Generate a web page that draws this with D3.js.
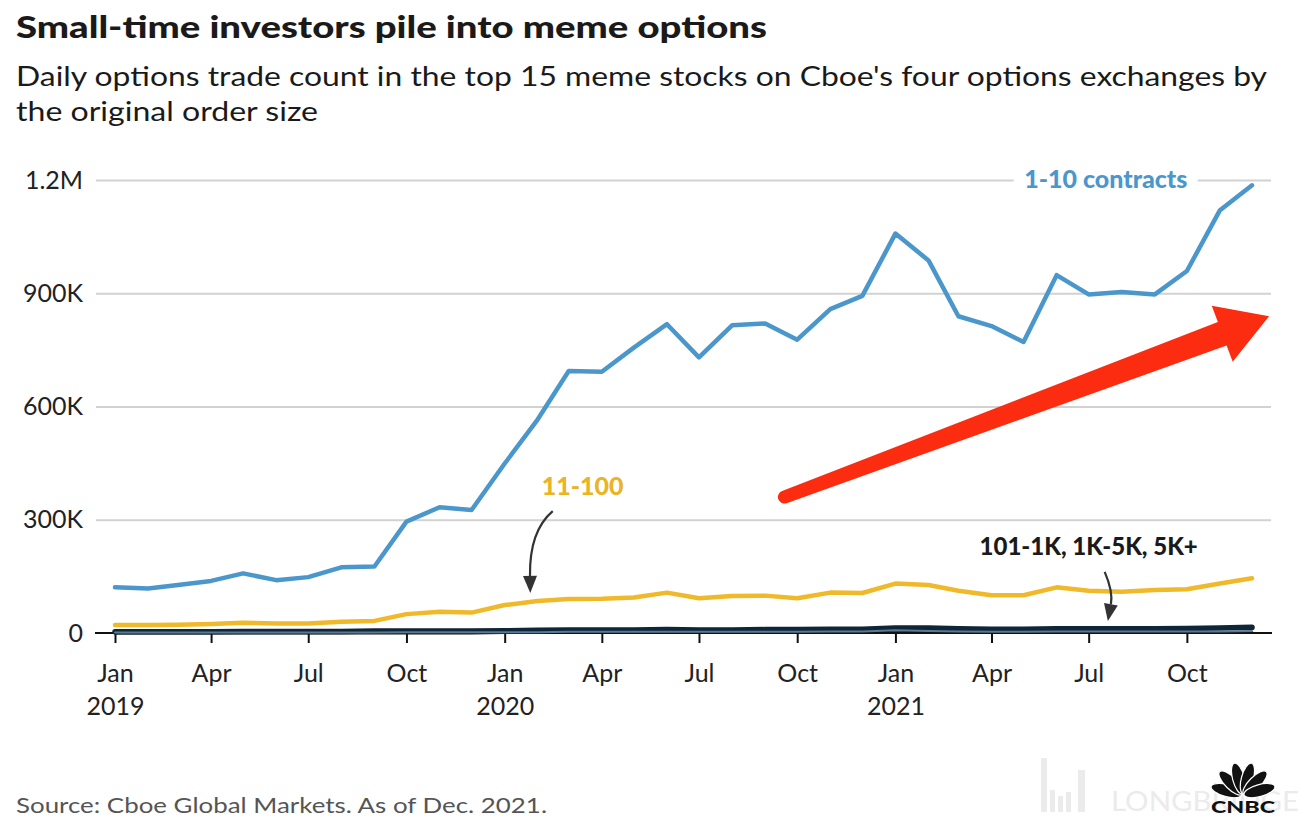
<!DOCTYPE html>
<html><head><meta charset="utf-8">
<script src="https://cdn.jsdelivr.net/npm/d3@7"></script>
<style>
body{margin:0;background:#fff}
svg{display:block}
text{font-family:Lato,"Open Sans",sans-serif}
</style>
</head><body>
<svg id="chart" width="1310" height="832"></svg>
<script>
// ---------- DATA ----------
const months = ["2019-01","2019-02","2019-03","2019-04","2019-05","2019-06","2019-07","2019-08","2019-09","2019-10","2019-11","2019-12",
                "2020-01","2020-02","2020-03","2020-04","2020-05","2020-06","2020-07","2020-08","2020-09","2020-10","2020-11","2020-12",
                "2021-01","2021-02","2021-03","2021-04","2021-05","2021-06","2021-07","2021-08","2021-09","2021-10","2021-11","2021-12"];
// daily trade count, thousands
const size1to10   = [121,118,127,138,158,140,148,174,176,295,333,326, 449,566,694,692,756,818,730,815,820,777,858,893, 1058,987,839,813,771,948,897,903,897,959,1120,1186];
const size11to100 = [21,21,22,24,27,25,25,30,32,50,56,54, 74,85,90,91,94,107,92,98,99,92,107,106, 131,127,112,100,100,121,112,109,114,116,131,145];
const size101to1K = [3,3,3,3,4,4,4,4,5,5,5,5, 6,7,8,8,8,9,8,8,9,9,10,10, 13,13,11,10,10,11,11,11,11,12,13,15];
const size1Kto5K  = [1,1,1,1,1,1,1,1,1,2,2,2, 2,2,3,3,3,3,3,3,3,3,4,4, 7,5,4,3,3,4,4,4,4,4,4,5];
const size5Kplus  = [0,0,0,0,0,0,0,0,0,0,0,0, 1,1,1,1,1,1,1,1,1,1,1,1, 1,1,1,1,1,1,1,1,1,1,1,1];

const yTicks = [0, 300000, 600000, 900000, 1200000];
const yTickLabels = ["0","300K","600K","900K","1.2M"];
const xTickDates = ["2019-01","2019-04","2019-07","2019-10","2020-01","2020-04","2020-07","2020-10","2021-01","2021-04","2021-07","2021-10"];
const xTickMonths = ["Jan","Apr","Jul","Oct","Jan","Apr","Jul","Oct","Jan","Apr","Jul","Oct"];
const xTickYears  = ["2019","","","","2020","","","","2021","","",""];

const titleText = "Small-time investors pile into meme options";
const subtitleLines = ["Daily options trade count in the top 15 meme stocks on Cboe's four options exchanges by","the original order size"];
const sourceText = "Source: Cboe Global Markets. As of Dec. 2021.";

// ---------- SETUP ----------
const parse = d3.timeParse("%Y-%m");
const parseDay = d3.timeParse("%Y-%m-%d");
const svg = d3.select("#chart");
const plot = {left:96, right:1271, top:180, bottom:633};

const x = d3.scaleTime().domain([parse("2019-01"), parse("2021-12")]).range([115, 1252]);
const y = d3.scaleLinear().domain([0, 1200000]).range([plot.bottom, plot.top]);

// ---------- TEXT ----------
svg.append("text").attr("x",16).attr("y",38).attr("font-size",31).attr("font-weight",900)
  .attr("fill","#1a1a1a").attr("textLength",751).attr("lengthAdjust","spacingAndGlyphs").text(titleText);
svg.append("text").attr("x",16).attr("y",86).attr("font-size",27).attr("fill","#1a1a1a")
  .attr("textLength",1251).attr("lengthAdjust","spacingAndGlyphs").text(subtitleLines[0]);
svg.append("text").attr("x",16).attr("y",121).attr("font-size",27).attr("fill","#1a1a1a")
  .attr("textLength",302).attr("lengthAdjust","spacingAndGlyphs").text(subtitleLines[1]);
svg.append("text").attr("x",16).attr("y",813).attr("font-size",22).attr("fill","#555")
  .attr("textLength",531).attr("lengthAdjust","spacingAndGlyphs").text(sourceText);

// ---------- Y AXIS / GRID ----------
const yAxis = d3.axisLeft(y).tickValues(yTicks).tickSize(-(plot.right-plot.left)).tickPadding(13)
  .tickFormat((d,i)=>yTickLabels[i]);
const gy = svg.append("g").attr("transform",`translate(${plot.left},0)`).call(yAxis);
gy.select(".domain").remove();
gy.selectAll(".tick line").attr("stroke","#d2d2d2").attr("stroke-width",2)
  .filter(d=>d===0).remove();
gy.selectAll(".tick text").attr("font-size",25).attr("fill","#222").attr("font-family","Lato,sans-serif");

// ---------- X AXIS ----------
const gx = svg.append("g").attr("transform",`translate(0,${plot.bottom})`)
  .call(d3.axisBottom(x).tickValues(xTickDates.map(parse)).tickSize(10).tickFormat(""));
gx.select(".domain").remove();
gx.selectAll(".tick line").attr("stroke","#111").attr("stroke-width",2);
gx.selectAll(".tick").each(function(d,i){
  const t = d3.select(this).append("text").attr("fill","#222").attr("font-size",25)
    .attr("text-anchor","middle").attr("font-family","Lato,sans-serif");
  t.append("tspan").attr("x",0).attr("y",49).text(xTickMonths[i]);
  if (xTickYears[i]) t.append("tspan").attr("x",0).attr("y",82).text(xTickYears[i]);
});
svg.append("line").attr("x1",plot.left-1).attr("x2",plot.right+1)
  .attr("y1",y(0)).attr("y2",y(0)).attr("stroke","#111").attr("stroke-width",2);

// ---------- LINES ----------
const series = [
  {name:"5K+", values:size5Kplus, color:"#111111", width:3},
  {name:"101-1K", values:size101to1K, color:"#0f2538", width:5.5},
  {name:"1K-5K", values:size1Kto5K, color:"#5a7a94", width:2},
  {name:"11-100", values:size11to100, color:"#f0b92a", width:4.5},
  {name:"1-10 contracts", values:size1to10, color:"#4b97cb", width:4.5},
];
const line = d3.line().x(d=>x(d.date)).y(d=>y(d.v*1000));
series.forEach(s=>{
  const pts = months.map((m,i)=>({date:parse(m), v:s.values[i]}));
  svg.append("path").datum(pts).attr("d",line).attr("fill","none")
    .attr("stroke",s.color).attr("stroke-width",s.width)
    .attr("stroke-linejoin","round").attr("stroke-linecap","round");
});

// ---------- ANNOTATIONS ----------
const lbl1x = x(parseDay("2021-07-17")), lbl1y = y(1200000)+8;
svg.append("rect").attr("x",lbl1x-92).attr("y",lbl1y-24).attr("width",184).attr("height",30).attr("fill","#fff");
svg.append("text").attr("x",lbl1x).attr("y",lbl1y).attr("text-anchor","middle")
  .attr("font-size",25).attr("font-weight",900).attr("fill","#4b97cb").text("1-10 contracts");

svg.append("text").attr("x",x(parseDay("2020-03-14"))).attr("y",y(365000)).attr("text-anchor","middle")
  .attr("font-size",25).attr("font-weight",900).attr("fill","#eab424").text("11-100");

function curvedArrow(p0, c, p1){
  const ang = Math.atan2(p1[1]-c[1], p1[0]-c[0]);
  const L = 17, Wd = 7;
  const bx = p1[0]-L*Math.cos(ang), by = p1[1]-L*Math.sin(ang);
  svg.append("path").attr("d",`M${p0[0]},${p0[1]} Q${c[0]},${c[1]} ${bx},${by}`)
    .attr("fill","none").attr("stroke","#333").attr("stroke-width",2.2);
  const nx = -Math.sin(ang), ny = Math.cos(ang);
  svg.append("path").attr("d",`M${p1[0]},${p1[1]} L${bx+nx*Wd},${by+ny*Wd} L${bx-nx*Wd},${by-ny*Wd} Z`).attr("fill","#333");
}
curvedArrow([x(parseDay("2020-02-15")), y(323000)],
            [x(parseDay("2020-01-24")), y(270000)],
            [x(parseDay("2020-01-25")), y(106000)]);

svg.append("text").attr("x",x(parseDay("2021-07-01"))).attr("y",y(206000)).attr("text-anchor","middle")
  .attr("font-size",24).attr("font-weight",900).attr("fill","#1a1a1a").text("101-1K, 1K-5K, 5K+");
curvedArrow([x(parseDay("2021-07-16")), y(162000)],
            [x(parseDay("2021-07-24")), y(110000)],
            [x(parseDay("2021-07-19")), y(32000)]);

(function(){
  const t0 = [x(parseDay("2020-09-19")), y(360000)];
  const t1 = [x(parseDay("2021-12-17")), y(839000)];
  const dx = t1[0]-t0[0], dy = t1[1]-t0[1], len = Math.hypot(dx,dy);
  const ux = dx/len, uy = dy/len, nx = -uy, ny = ux;
  const headL = 50, headW = 30, w0 = 6.5, w1 = 12.5;
  const b = [t1[0]-ux*headL, t1[1]-uy*headL];
  const P = (p,s)=>`${p[0]+nx*s},${p[1]+ny*s}`;
  const d = `M${P(t0,w0)} L${P(b,w1)} L${P(b,headW)} L${t1[0]},${t1[1]} L${P(b,-headW)} L${P(b,-w1)} L${P(t0,-w0)} A${w0},${w0} 0 0 0 ${P(t0,w0)} Z`;
  svg.append("path").attr("d",d).attr("fill","#fb2c10");
})();

// ---------- WATERMARK & LOGO ----------
const wm = svg.append("g").attr("fill","#ebebeb");
[[1041,758,6,54],[1050,790,5,22],[1058,796,5,16],[1066,792,5,20],[1078,770,7,42]].forEach(r=>
  wm.append("rect").attr("x",r[0]).attr("y",r[1]).attr("width",r[2]).attr("height",r[3]));
svg.append("text").attr("x",1111).attr("y",811).attr("font-size",27).attr("fill","#ebebeb")
  .attr("textLength",188).attr("lengthAdjust","spacingAndGlyphs").text("LONGBRIDGE");

const logo = svg.append("g").attr("transform","translate(1243,795)");
[-75,-45,-15,15,45,75].forEach(a=>{
  logo.append("ellipse").attr("cx",0).attr("cy",-17).attr("rx",6).attr("ry",16)
    .attr("transform",`rotate(${a})`).attr("fill","#111").attr("stroke","#fff").attr("stroke-width",1.2);
});
logo.append("text").attr("x",0).attr("y",18).attr("text-anchor","middle").attr("font-size",17)
  .attr("font-weight",900).attr("fill","#111").attr("textLength",64).attr("lengthAdjust","spacingAndGlyphs").text("CNBC");
</script>
</body></html>
